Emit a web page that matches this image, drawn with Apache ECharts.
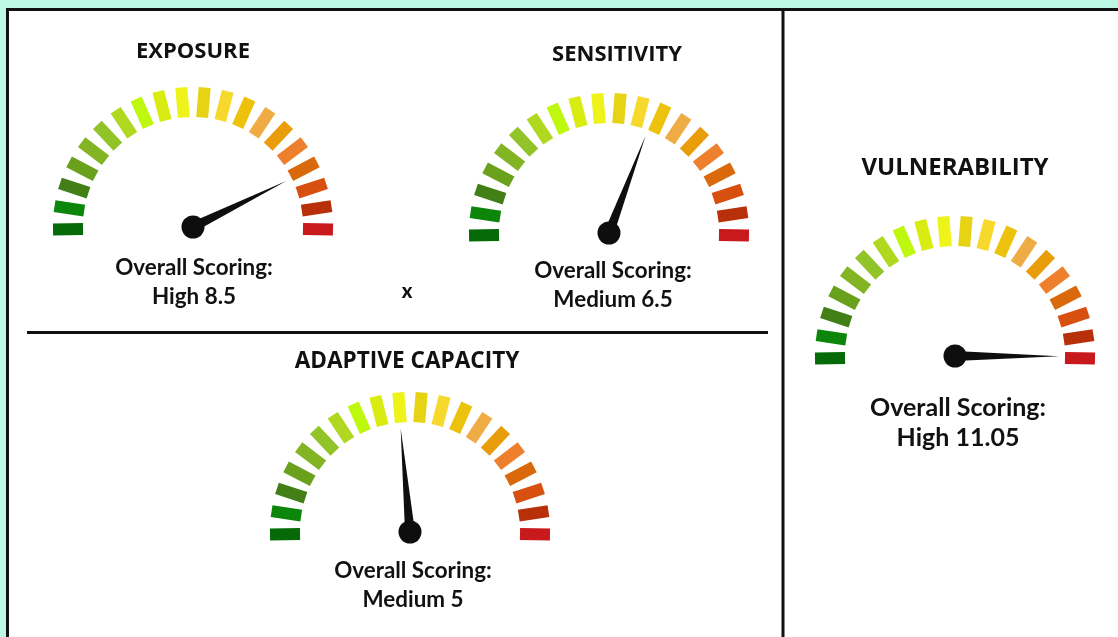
<!DOCTYPE html>
<html>
<head>
<meta charset="utf-8">
<script src="https://cdn.jsdelivr.net/npm/echarts@6/dist/echarts.min.js"></script>
<style>
html,body{margin:0;padding:0;background:#bdf8e5;}
#chart{width:1118px;height:637px;}
</style>
</head>
<body>
<div id="chart"></div>
<script>
// ---- data ----
const gaugeNames = ['EXPOSURE', 'SENSITIVITY', 'ADAPTIVE CAPACITY', 'VULNERABILITY'];
const scoreLevels = ['High', 'Medium', 'Medium', 'High'];
const scores = [8.5, 6.5, 5, 11.05];
const scaleMax = [10, 10.6, 10.6, 11.1];
const segmentColors = [
  '#066a08', '#0b860b', '#437f17', '#69a01c', '#82b424',
  '#92c42a', '#b0d820', '#bef80e', '#d8ec12', '#eef31a',
  '#e6d414', '#f7d92d', '#ecc20c', '#efac45', '#e99d0b',
  '#ee7f2c', '#d9690b', '#d8500f', '#b7300a', '#c8191c'
];

// ---- layout ----
const centers = [[193, 227], [609, 233], [410, 532], [955, 356]];
const titlePos = [[193, 52], [617, 55], [407, 362], [955, 168]];
const titleSize = [22, 22, 22.6, 24];
const labelPos = [[194, 268], [613, 271], [413, 571], [958, 408]];
const labelSize = [22.4, 22.4, 22.4, 25];

const nSeg = segmentColors.length;
const colorStops = segmentColors.map((c, i) => [i === nSeg - 1 ? 1 : (i + 0.5) / (nSeg - 1), c]);

const series = scores.map((v, i) => ({
  type: 'gauge',
  center: centers[i],
  radius: 140,
  startAngle: 181,
  endAngle: -1,
  min: 0,
  max: scaleMax[i],
  splitNumber: nSeg - 1,
  axisLine: { show: false, lineStyle: { width: 0, color: colorStops } },
  splitLine: { show: true, length: 30, distance: 0, lineStyle: { width: 12, color: 'auto', cap: 'butt' } },
  axisTick: { show: false },
  axisLabel: { show: false },
  pointer: { show: true, icon: 'triangle', length: 104, width: 10, offsetCenter: [0, 0], itemStyle: { color: '#0e0e0e' } },
  anchor: { show: true, size: 23, showAbove: true, itemStyle: { color: '#0e0e0e' } },
  title: { show: false },
  detail: { show: false },
  animation: false,
  data: [{ value: v, name: gaugeNames[i] }]
}));

const graphics = [
  { type: 'rect', shape: { x: 7.5, y: 9.5, width: 1200, height: 700 }, style: { fill: '#ffffff', stroke: '#111111', lineWidth: 3 }, z: -10 },
  { type: 'line', shape: { x1: 783, y1: 10, x2: 783, y2: 637 }, style: { stroke: '#111111', lineWidth: 3 }, z: -9 },
  { type: 'line', shape: { x1: 27, y1: 332.5, x2: 768, y2: 332.5 }, style: { stroke: '#111111', lineWidth: 3 }, z: -9 },
  { type: 'text', x: 407, y: 292, style: { text: 'x', font: '900 20px Lato', fill: '#111', textAlign: 'center', textVerticalAlign: 'middle' } }
];
gaugeNames.forEach((n, i) => {
  graphics.push({ type: 'text', x: titlePos[i][0], y: titlePos[i][1],
    style: { text: n, font: 'bold ' + titleSize[i] + 'px "Open Sans"', fill: '#111', textAlign: 'center', textVerticalAlign: 'middle' } });
  const lh = i === 3 ? 30 : 29;
  graphics.push({ type: 'text', x: labelPos[i][0], y: labelPos[i][1] - lh / 2,
    style: { text: 'Overall Scoring:\n' + scoreLevels[i] + ' ' + scores[i], font: 'bold ' + labelSize[i] + 'px Lato',
      lineHeight: lh, fill: '#111', textAlign: 'center', textVerticalAlign: 'top' } });
});

const chart = echarts.init(document.getElementById('chart'), null, { renderer: 'canvas' });
chart.setOption({
  backgroundColor: '#bdf8e5',
  animation: false,
  graphic: graphics,
  series: series
});
</script>
</body>
</html>
